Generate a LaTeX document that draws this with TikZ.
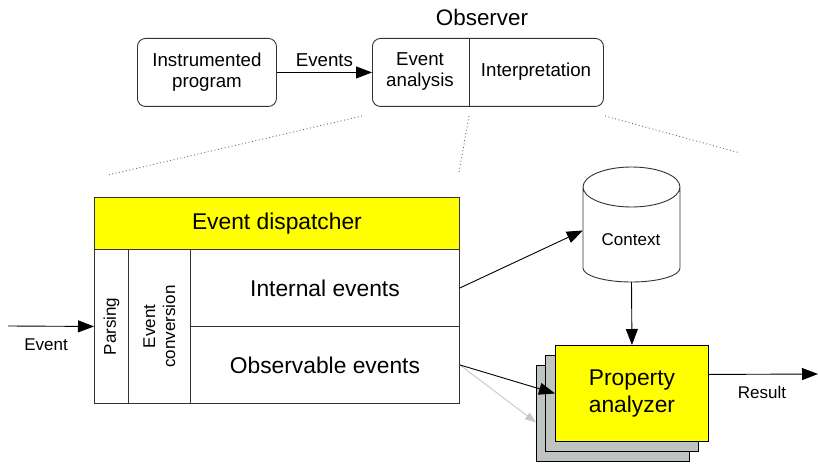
\documentclass[tikz,border=0pt]{standalone}
\usepackage{fontspec}
\setmainfont{Liberation Sans}
\usetikzlibrary{arrows.meta,calc}
\definecolor{boxline}{HTML}{333333}
\definecolor{sheetgray}{HTML}{C0C4C0}
\definecolor{hiyellow}{HTML}{FFFF00}
\tikzset{
  fs/.style={font=\fontsize{17}{20}\selectfont},
  fm/.style={font=\fontsize{18.7}{21}\selectfont},
  fl/.style={font=\fontsize{22.8}{27}\selectfont},
  cell/.style={draw=boxline, line width=0.9pt, inner sep=0pt, anchor=north west},
  roundbox/.style={draw=boxline, line width=0.9pt, rounded corners=8pt, inner sep=0pt, anchor=north west},
  sheet/.style={draw=black, line width=0.9pt, inner sep=0pt, anchor=north west,
    minimum width=153pt, minimum height=96pt},
  arr/.style={line width=0.9pt, -{Triangle[length=16pt,width=12pt]}},
  ghostarr/.style={line width=0.9pt, draw=black!22, -{Triangle[length=11pt,width=8pt,fill=black!22]}},
  zoomline/.style={draw=black!60, line width=0.9pt, dash pattern=on 0.9pt off 2.6pt},
}
\begin{document}
\begin{tikzpicture}[x=1pt,y=-1pt]
\useasboundingbox (0,0) rectangle (818,465);

% top level: program and observer
\node[roundbox, minimum width=139pt, minimum height=68pt] (ip) at (137,38) {};
\node[fm, align=center] (iptext) at (ip.center) {Instrumented\\program};
\node[roundbox, minimum width=231pt, minimum height=68pt] (obsv) at (372,38) {};
\draw[boxline, line width=0.9pt] (469,38) coordinate (divtop) -- (469,106) coordinate (divbot);
\node[fm, align=center] (eatext) at (420,72) {Event\\analysis};
\node[fm] (interp) at (536,72) {Interpretation};
\node[font=\fontsize{22.4}{26}\selectfont] (obsname) at (482,17) {Observer};
\draw[arr] (ip.east) -- node[fm, above=2pt] (evlabel) {Events} (obsv.west);

% zoom guide lines
\coordinate (zA1) at (362,116); \coordinate (zA2) at (108,175);
\coordinate (zB1) at (469,116); \coordinate (zB2) at (459,172);
\coordinate (zC1) at (605,116); \coordinate (zC2) at (740,153);
\draw[zoomline] (zA1) -- (zA2);
\draw[zoomline] (zB1) -- (zB2);
\draw[zoomline] (zC1) -- (zC2);

% event analysis block
\node[cell, fill=hiyellow, minimum width=365pt, minimum height=52pt] (disp) at (94,197) {};
\node[fl] (disptext) at (disp.center) {Event dispatcher};
\node[cell, minimum width=34pt, minimum height=154pt] (parse) at (94,249) {};
\node[cell, minimum width=62pt, minimum height=154pt] (conv) at (128,249) {};
\node[cell, minimum width=269pt, minimum height=77pt] (int) at (190,249) {};
\node[cell, minimum width=269pt, minimum height=77pt] (obs) at (190,326) {};
\node[fs, rotate=90] (parsetext) at (parse.center) {Parsing};
\node[fs, rotate=90, align=center] (convtext) at (conv.center) {Event\\conversion};
\node[fl] (inttext) at (int.center) {Internal events};
\node[fl] (obstext) at (obs.center) {Observable events};

\coordinate (evin) at (8,326);
\draw[arr] (evin) -- (parse.west);
\node[fs] (evintext) at (46,345) {Event};

% context store
\node[inner sep=0pt, minimum width=97pt, minimum height=115pt] (ctx) at (631.5,224.5) {};
\draw[boxline, line width=0.9pt, fill=white]
  (583,187) -- (583,268) arc[start angle=180, end angle=360, x radius=48.5, y radius=-14]
  -- (680,187) arc[start angle=0, end angle=180, x radius=48.5, y radius=-20]
  arc[start angle=180, end angle=360, x radius=48.5, y radius=-20];
\node[fs] (ctxtext) at (631,240) {Context};

% property analyzers (stacked)
\node[sheet, fill=sheetgray] (pa3) at (536,365) {};
\node[sheet, fill=sheetgray] (pa2) at (545,355) {};
\node[sheet, fill=hiyellow] (pa) at (555,345) {};
\node[fl, align=center] (patext) at (pa.center) {Property\\analyzer};

% connectors
\draw[arr] (int.east) -- ($(ctx.west)+(0,6)$);
\draw[arr] (ctx.south) -- (pa.north);
\draw[ghostarr] (obs.east) -- ($(pa3.west)+(0,9)$);
\draw[arr] (obs.east) -- (pa.west);
\coordinate (resout) at (818,374);
\draw[arr] ($(pa.east)+(0,-19)$) -- (resout);
\node[fs] (restext) at (762,392) {Result};
\end{tikzpicture}
\end{document}
